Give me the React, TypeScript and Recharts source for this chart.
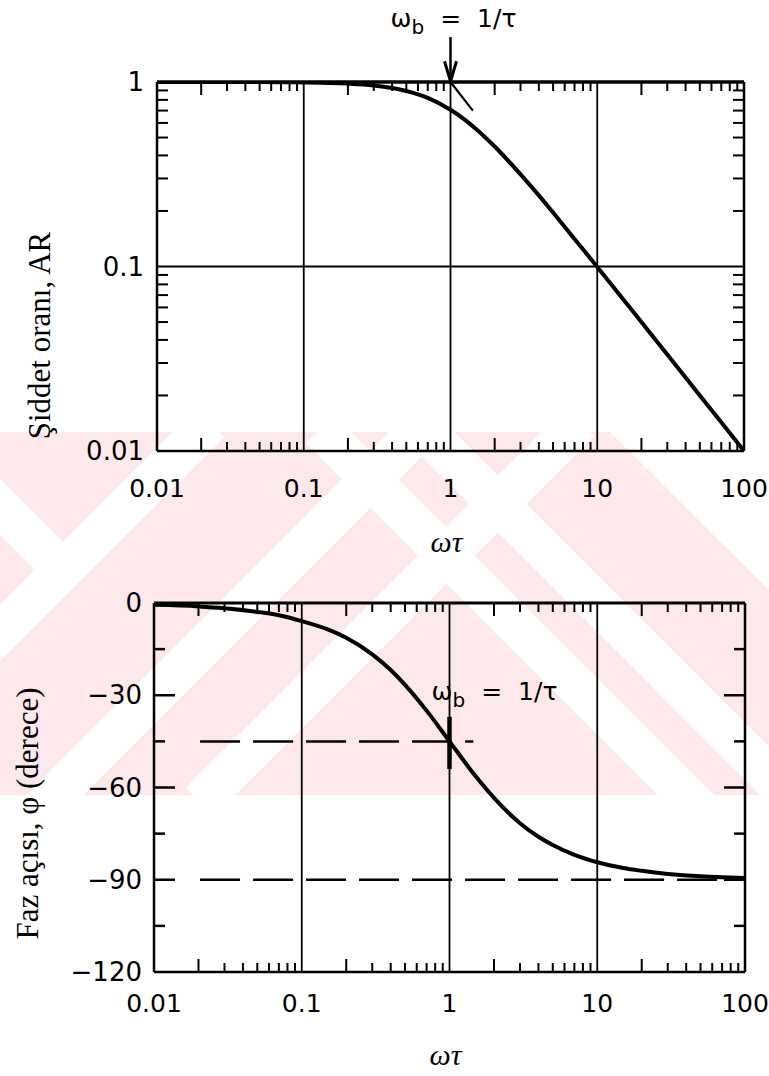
import React from 'react';
import { LineChart, Line, XAxis, YAxis, ReferenceLine, ReferenceDot } from 'recharts';

// values
const omegaTau = [0.01, 0.02, 0.03, 0.05, 0.07, 0.1, 0.15, 0.2, 0.3, 0.4, 0.5, 0.7, 1, 1.5, 2, 3, 4, 5, 7, 10, 15, 20, 30, 50, 70, 100];
const amplitudeRatio = [1, 1, 1, 0.999, 0.998, 0.995, 0.989, 0.98, 0.958, 0.928, 0.894, 0.82, 0.707, 0.555, 0.447, 0.316, 0.243, 0.196, 0.141, 0.0995, 0.0665, 0.05, 0.0333, 0.02, 0.0143, 0.01];
const phaseDeg = [-0.6, -1.1, -1.7, -2.9, -4, -5.9, -8.6, -11.3, -16.7, -21.8, -26.6, -35, -45, -56.3, -63.4, -71.6, -76, -78.7, -81.9, -84.3, -86.2, -87.1, -88.1, -88.9, -89.2, -89.4];

const decadeTicks = [0.01, 0.1, 1, 10, 100];
const decadeLabels = ['0.01', '0.1', '1', '10', '100'];
const minorSteps = [2, 3, 4, 5, 6, 7, 8, 9];
const arTicks = [0.01, 0.1, 1];
const arLabels = ['0.01', '0.1', '1'];
const phaseTicks = [0, -30, -60, -90, -120];
const phaseLabels = ['0', '\u221230', '\u221260', '\u221290', '\u2212120'];
const phaseMinor = [-15, -45, -75, -105];

const minorX = decadeTicks.slice(0, -1).flatMap((d) => minorSteps.map((m) => +(d * m).toPrecision(3)));
const minorAR = arTicks.slice(0, -1).flatMap((d) => minorSteps.map((m) => +(d * m).toPrecision(3)));
const allX = [...decadeTicks, ...minorX].sort((a, b) => a - b);
const allAR = [...arTicks, ...minorAR].sort((a, b) => a - b);
const allPhase = [...phaseTicks, ...phaseMinor].sort((a, b) => a - b);

const arData = omegaTau.map((w, i) => ({ w, ar: amplitudeRatio[i] }));
const phaseData = omegaTau.map((w, i) => ({ w, phi: phaseDeg[i] }));

const INK = '#000';
const NUM_FONT = '"DejaVu Sans", sans-serif';
const SERIF = '"Liberation Serif", serif';

const near = (a: number, b: number) => Math.abs(a - b) <= Math.abs(b) * 1e-6 + 1e-9;

function XTick(props: any) {
  const { x, y, payload, side, labelDy } = props;
  const v = payload.value as number;
  const i = decadeTicks.findIndex((t) => near(v, t));
  const dir = side === 'top' ? 1 : -1;
  if (i < 0) {
    const lead = Math.round(v / Math.pow(10, Math.floor(Math.log10(v) + 1e-9)));
    const len = lead === 2 ? 13 : 9;
    return <line x1={x} y1={y} x2={x} y2={y + dir * len} stroke={INK} strokeWidth={2} />;
  }
  if (side !== 'bottom') return <g />;
  return (
    <text x={x} y={y + labelDy} textAnchor="middle" fontFamily={NUM_FONT} fontSize={25} fill={INK}>
      {decadeLabels[i]}
    </text>
  );
}

function ARTick(props: any) {
  const { x, y, payload, side } = props;
  const v = payload.value as number;
  const i = arTicks.findIndex((t) => near(v, t));
  const dir = side === 'right' ? -1 : 1;
  if (i < 0) return <line x1={x} y1={y} x2={x + dir * 11} y2={y} stroke={INK} strokeWidth={2} />;
  if (side === 'right') return <g />;
  return (
    <text x={x - 13} y={y + 9} textAnchor="end" fontFamily={NUM_FONT} fontSize={26} fill={INK}>
      {arLabels[i]}
    </text>
  );
}

function PhaseTick(props: any) {
  const { x, y, payload, side } = props;
  const v = payload.value as number;
  const i = phaseTicks.findIndex((t) => near(v, t));
  const dir = side === 'right' ? -1 : 1;
  const len = i < 0 ? 11 : v === 0 || v === -120 ? 0 : 21;
  return (
    <g>
      {len > 0 && <line x1={x} y1={y} x2={x + dir * len} y2={y} stroke={INK} strokeWidth={2.5} />}
      {i >= 0 && side !== 'right' && (
        <text x={x - 12} y={y + 9} textAnchor="end" fontFamily={NUM_FONT} fontSize={26} fill={INK}>
          {phaseLabels[i]}
        </text>
      )}
    </g>
  );
}

function DownArrow(p: any) {
  return (
    <g>
      <line x1={p.x1} y1={p.y1} x2={p.x2} y2={p.y2} stroke={INK} strokeWidth={2.5} />
      <path d={`M${p.x2 - 6},${p.y2 - 20} L${p.x2},${p.y2} L${p.x2 + 6},${p.y2 - 20}`} fill="none" stroke={INK} strokeWidth={3} />
    </g>
  );
}

function breakLabel(shift: number) {
  return (p: any) => (
    <text x={p.cx + shift} y={p.cy} fontFamily={NUM_FONT} fontSize={25} fill={INK}>
      ω<tspan fontSize={20} dy={7}>b</tspan>
      <tspan dy={-7} dx={16}>=</tspan>
      <tspan dx={16}>1/τ</tspan>
    </text>
  );
}

function yTitle(text: string, baseX: number, shiftY: number) {
  return (p: any) => {
    const vb = p.viewBox || {};
    const cy = (vb.y ?? 0) + (vb.height ?? 0) / 2 + shiftY;
    return (
      <text transform={`translate(${baseX}, ${cy}) rotate(-90)`} textAnchor="middle" fontFamily={SERIF} fontSize={31} fill={INK}>
        {text}
      </text>
    );
  };
}

function xTitle(dy: number) {
  return (p: any) => {
    const vb = p.viewBox || {};
    return (
      <text x={(vb.x ?? 0) + (vb.width ?? 0) / 2 - 4} y={(vb.y ?? 0) + dy} textAnchor="middle" fontFamily={SERIF} fontStyle="italic" fontSize={30} fill={INK}>
        ωτ
      </text>
    );
  };
}

function Watermark() {
  return (
    <svg width={769} height={1076} style={{ position: 'absolute', left: 0, top: 0 }}>
      <defs>
        <clipPath id="wm-band">
          <rect x={0} y={432} width={769} height={363} />
        </clipPath>
      </defs>
      <rect x={0} y={432} width={769} height={363} fill="#fde9ec" />
      <g clipPath="url(#wm-band)" stroke="#fff" strokeWidth={40}>
        <line x1={-170} y1={803} x2={210} y2={423} />
        <line x1={40} y1={810} x2={430} y2={420} />
        <line x1={200} y1={802} x2={580} y2={422} />
        <line x1={-20} y1={487} x2={70} y2={577} />
        <line x1={320} y1={429} x2={700} y2={809} />
        <line x1={420} y1={426} x2={800} y2={806} />
        <polygon points="610,432 769,432 769,590" fill="#fff" stroke="none" />
      </g>
    </svg>
  );
}

function MagnitudeChart() {
  return (
    <LineChart width={769} height={580} data={arData} margin={{ top: 81, right: 24, bottom: 0, left: 0 }}>
      <XAxis xAxisId="b" dataKey="w" type="number" scale="log" domain={[0.01, 100]} allowDataOverflow
        ticks={allX} interval={0} height={129} tickSize={0} tickMargin={0}
        axisLine={{ stroke: INK, strokeWidth: 2.5 }} tick={<XTick side="bottom" labelDy={46} />}
        label={{ content: xTitle(101) }} />
      <XAxis xAxisId="t" orientation="top" dataKey="w" type="number" scale="log" domain={[0.01, 100]} allowDataOverflow
        ticks={allX} interval={0} height={1} tickSize={0} tickMargin={0}
        axisLine={{ stroke: INK, strokeWidth: 3.5 }} tick={<XTick side="top" />} />
      <YAxis yAxisId="l" type="number" scale="log" domain={[0.01, 1]} allowDataOverflow
        ticks={allAR} interval={0} width={157} tickSize={0} tickMargin={0}
        axisLine={{ stroke: INK, strokeWidth: 2.5 }} tick={<ARTick side="left" />}
        label={{ content: yTitle('Şiddet oranı, AR', 50, 69) }} />
      <YAxis yAxisId="r" orientation="right" type="number" scale="log" domain={[0.01, 1]} allowDataOverflow
        ticks={allAR} interval={0} width={1} tickSize={0} tickMargin={0}
        axisLine={{ stroke: INK, strokeWidth: 2.5 }} tick={<ARTick side="right" />} />
      {[0.1, 1, 10].map((g) => (
        <ReferenceLine key={g} xAxisId="b" yAxisId="l" x={g} stroke={INK} strokeWidth={1.8} />
      ))}
      <ReferenceLine xAxisId="b" yAxisId="l" y={0.1} stroke={INK} strokeWidth={1.8} />
      <ReferenceLine xAxisId="b" yAxisId="l" segment={[{ x: 1, y: 1 }, { x: 1.42, y: 0.7 }]} stroke={INK} strokeWidth={2.2} />
      <ReferenceLine xAxisId="b" yAxisId="l" ifOverflow="visible" segment={[{ x: 1, y: 1.75 }, { x: 1, y: 1.01 }]} shape={DownArrow} />
      <ReferenceDot xAxisId="b" yAxisId="l" x={1} y={1.99} r={0} ifOverflow="visible" shape={breakLabel(-60)} />
      <Line xAxisId="b" yAxisId="l" dataKey="ar" type="monotone" stroke={INK} strokeWidth={4} dot={false} isAnimationActive={false} />
    </LineChart>
  );
}

function PhaseChart() {
  return (
    <LineChart width={769} height={516} data={phaseData} margin={{ top: 42, right: 23, bottom: 0, left: 0 }}>
      <XAxis xAxisId="b" dataKey="w" type="number" scale="log" domain={[0.01, 100]} allowDataOverflow
        ticks={allX} interval={0} height={104} tickSize={0} tickMargin={0}
        axisLine={{ stroke: INK, strokeWidth: 2.5 }} tick={<XTick side="bottom" labelDy={40} />}
        label={{ content: xTitle(93) }} />
      <XAxis xAxisId="t" orientation="top" dataKey="w" type="number" scale="log" domain={[0.01, 100]} allowDataOverflow
        ticks={allX} interval={0} height={1} tickSize={0} tickMargin={0}
        axisLine={{ stroke: INK, strokeWidth: 3 }} tick={<XTick side="top" />} />
      <YAxis yAxisId="l" type="number" domain={[-120, 0]} allowDataOverflow
        ticks={allPhase} interval={0} width={154} tickSize={0} tickMargin={0}
        axisLine={{ stroke: INK, strokeWidth: 2.5 }} tick={<PhaseTick side="left" />}
        label={{ content: yTitle('Faz açısı, φ (derece)', 38, 26) }} />
      <YAxis yAxisId="r" orientation="right" type="number" domain={[-120, 0]} allowDataOverflow
        ticks={allPhase} interval={0} width={1} tickSize={0} tickMargin={0}
        axisLine={{ stroke: INK, strokeWidth: 2.5 }} tick={<PhaseTick side="right" />} />
      {[0.1, 1, 10].map((g) => (
        <ReferenceLine key={g} xAxisId="b" yAxisId="l" x={g} stroke={INK} strokeWidth={1.8} />
      ))}
      <ReferenceLine xAxisId="b" yAxisId="l" segment={[{ x: 0.0205, y: -45 }, { x: 1.45, y: -45 }]} stroke={INK} strokeWidth={2.5} strokeDasharray="40 13" />
      <ReferenceLine xAxisId="b" yAxisId="l" segment={[{ x: 0.0205, y: -90 }, { x: 100, y: -90 }]} stroke={INK} strokeWidth={2.5} strokeDasharray="40 13" />
      <ReferenceLine xAxisId="b" yAxisId="l" segment={[{ x: 1, y: -37 }, { x: 1, y: -54 }]} stroke={INK} strokeWidth={4.5} />
      <ReferenceDot xAxisId="b" yAxisId="l" x={1} y={-31.5} r={0} ifOverflow="visible" shape={breakLabel(-18)} />
      <Line xAxisId="b" yAxisId="l" dataKey="phi" type="monotone" stroke={INK} strokeWidth={4} dot={false} isAnimationActive={false} />
    </LineChart>
  );
}

export default function App() {
  return (
    <div style={{ position: 'absolute', left: 0, top: 0, width: 769, height: 1076, background: '#fff', overflow: 'hidden' }}>
      <Watermark />
      <div style={{ position: 'absolute', left: 0, top: 0 }}>
        <MagnitudeChart />
      </div>
      <div style={{ position: 'absolute', left: 0, top: 560 }}>
        <PhaseChart />
      </div>
    </div>
  );
}
